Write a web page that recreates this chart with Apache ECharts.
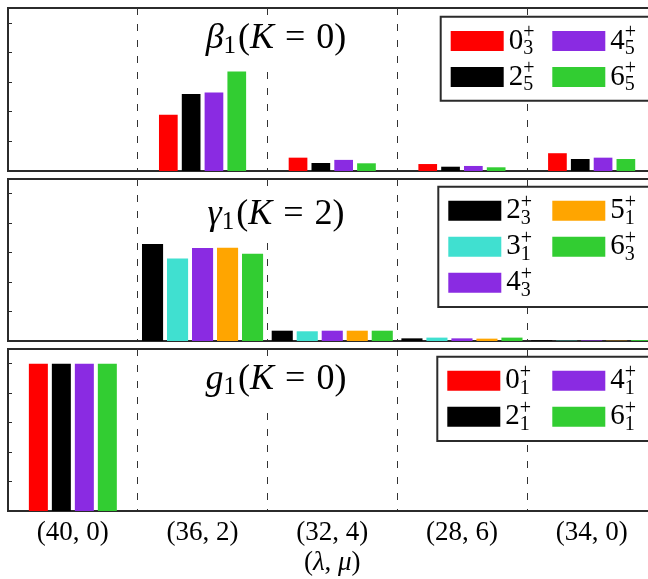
<!DOCTYPE html>
<html>
<head>
<meta charset="utf-8">
<script src="https://cdn.jsdelivr.net/npm/echarts@6/dist/echarts.min.js"></script>
<style>
html,body{margin:0;padding:0;background:#fff;}
#c{width:648px;height:579px;}
</style>
</head>
<body>
<div id="c"></div>
<script>
// ---- data ----
const categories = ['(40, 0)', '(36, 2)', '(32, 4)', '(28, 6)', '(34, 0)'];

// beta_1 (K=0) band
const betaStates = [['0', '3'], ['2', '5'], ['4', '5'], ['6', '5']];
const beta_0_3 = [0, 0.380, 0.090, 0.047, 0.120];
const beta_2_5 = [0, 0.520, 0.054, 0.029, 0.081];
const beta_4_5 = [0, 0.529, 0.075, 0.034, 0.090];
const beta_6_5 = [0, 0.671, 0.052, 0.025, 0.081];

// gamma_1 (K=2) band
const gammaStates = [['2', '3'], ['3', '1'], ['4', '3'], ['5', '1'], ['6', '3']];
const gamma_2_3 = [0, 0.659, 0.070, 0.018, 0.005];
const gamma_3_1 = [0, 0.561, 0.066, 0.023, 0.002];
const gamma_4_3 = [0, 0.632, 0.070, 0.018, 0.004];
const gamma_5_1 = [0, 0.634, 0.070, 0.016, 0.002];
const gamma_6_3 = [0, 0.593, 0.070, 0.023, 0.006];

// g_1 (K=0) band
const gStates = [['0', '1'], ['2', '1'], ['4', '1'], ['6', '1']];
const g_0_1 = [1.0, 0, 0, 0, 0];
const g_2_1 = [1.0, 0, 0, 0, 0];
const g_4_1 = [1.0, 0, 0, 0, 0];
const g_6_1 = [1.0, 0, 0, 0, 0];

const yMax = 1.1;
const yInterval = 0.2;

// ---- styles ----
const RED = '#ff0000', BLACK = '#000000', PURPLE = '#8a2be2', GREEN = '#32cd32', CYAN = '#40e0d0', ORANGE = '#ffa500';
const FRAME = '#2b2b2b';
const FONT = 'Liberation Serif';

const panels = [
  { title: '{it|β}{sb|1}{r|(}{it|K}{eq|=}{r|0)}', states: betaStates,
    values: [beta_0_3, beta_2_5, beta_4_5, beta_6_5], colors: [RED, BLACK, PURPLE, GREEN],
    barWidth: 18.7, barGap: '22%', top: 8, height: 163, titleTop: 15, legendTop: 23, legendRows: 2,
    box: [440.7, 16.7, 84] },
  { title: '{it|γ}{sb|1}{r|(}{it|K}{eq|=}{r|2)}', states: gammaStates,
    values: [gamma_2_3, gamma_3_1, gamma_4_3, gamma_5_1, gamma_6_3], colors: [BLACK, CYAN, PURPLE, ORANGE, GREEN],
    barWidth: 21.1, barGap: '18.5%', top: 179, height: 162, titleTop: 191, legendTop: 192.7, legendRows: 3,
    box: [438.3, 186.7, 120.3] },
  { title: '{it|g}{sb|1}{r|(}{it|K}{eq|=}{r|0)}', states: gStates,
    values: [g_0_1, g_2_1, g_4_1, g_6_1], colors: [RED, BLACK, PURPLE, GREEN],
    barWidth: 19, barGap: '21%', top: 349, height: 162, titleTop: 356, legendTop: 362.7, legendRows: 2,
    box: [437.3, 356.7, 84.3] }
];

const nameOf = (s) => s[0] + '_' + s[1];
const labelMap = {};
panels.forEach(p => p.states.forEach(s => { labelMap[nameOf(s)] = s; }));

const legendRich = {
  n: { fontFamily: FONT, fontSize: 29, lineHeight: 36, color: '#000' },
  b: { fontFamily: FONT, fontSize: 20, lineHeight: 28, width: 0, verticalAlign: 'bottom', color: '#000' },
  p: { fontFamily: FONT, fontSize: 20, lineHeight: 16, verticalAlign: 'top', color: '#000' }
};

const titleRich = {
  it: { fontFamily: FONT, fontStyle: 'italic', fontWeight: 'normal', fontSize: 36, lineHeight: 40, color: '#000' },
  r: { fontFamily: FONT, fontWeight: 'normal', fontSize: 36, lineHeight: 40, color: '#000' },
  eq: { fontFamily: FONT, fontWeight: 'normal', fontSize: 36, lineHeight: 40, color: '#000', padding: [0, 11, 0, 11] },
  sb: { fontFamily: FONT, fontWeight: 'normal', fontSize: 25, lineHeight: 26, verticalAlign: 'bottom', color: '#000', padding: [0, 2, 0, 0] }
};

const grids = [], xAxes = [], yAxes = [], series = [], legends = [], titles = [], graphics = [];

panels.forEach((p, i) => {
  grids.push({ left: 8, top: p.top, width: 648.5, height: p.height, show: true,
    containLabel: false, outerBoundsMode: 'none',
    borderColor: FRAME, borderWidth: 2, backgroundColor: 'transparent' });
  xAxes.push({
    type: 'category', gridIndex: i, data: categories, boundaryGap: true,
    axisLine: { show: true, lineStyle: { color: FRAME, width: 2 } },
    axisTick: { show: false },
    axisLabel: { show: i === 2, fontFamily: FONT, fontSize: 27, color: '#000', margin: 8 },
    splitLine: { show: true, interval: 0, lineStyle: { color: '#333', width: 1, type: [7, 9] } },
    name: i === 2 ? '({it|λ}, {it|μ})' : '',
    nameLocation: 'middle', nameGap: 38,
    nameTextStyle: { fontFamily: FONT, fontSize: 27, color: '#000',
      rich: { it: { fontFamily: FONT, fontStyle: 'italic', fontSize: 27, color: '#000' } } }
  });
  yAxes.push({
    type: 'value', gridIndex: i, min: 0, max: yMax, interval: yInterval,
    axisLine: { show: true, lineStyle: { color: FRAME, width: 2 } },
    axisTick: { show: true, inside: true, length: 4, lineStyle: { color: FRAME, width: 1 } },
    axisLabel: { show: false },
    splitLine: { show: false }
  });
  p.states.forEach((s, k) => {
    series.push({
      type: 'bar', name: nameOf(s), xAxisIndex: i, yAxisIndex: i,
      data: p.values[k], barWidth: p.barWidth, barGap: p.barGap,
      itemStyle: { color: p.colors[k] }, emphasis: { disabled: true }, z: 2
    });
  });
  titles.push({
    text: p.title, left: 270, top: p.titleTop, textAlign: 'center',
    padding: [4, 6, 6, 6], backgroundColor: '#fff',
    textStyle: { fontWeight: 'normal', rich: titleRich }, z: 6
  });
  // legend frame
  graphics.push({ type: 'rect', z: 5, shape: { x: p.box[0], y: p.box[1], width: 260, height: p.box[2] },
    style: { fill: '#fff', stroke: FRAME, lineWidth: 2 } });
  const names = p.states.map(nameOf);
  const col1 = names.slice(0, p.legendRows), col2 = names.slice(p.legendRows);
  [col1, col2].forEach((col, c) => {
    legends.push({
      data: col, orient: 'vertical', left: (c === 0 ? p.box[0] + 10 : 552.3), top: p.legendTop,
      padding: 0, itemGap: 0, itemWidth: 53, itemHeight: 20, icon: 'rect', selectedMode: false,
      z: 7,
      formatter: (name) => { const s = labelMap[name]; return '{n|' + s[0] + '}{b|' + s[1] + '}{p|+}'; },
      textStyle: { rich: legendRich }
    });
  });
});

const chart = echarts.init(document.getElementById('c'), null, { renderer: 'canvas' });
chart.setOption({
  backgroundColor: '#fff',
  animation: false,
  title: titles,
  grid: grids,
  xAxis: xAxes,
  yAxis: yAxes,
  legend: legends,
  graphic: graphics,
  series: series
});
</script>
</body>
</html>
